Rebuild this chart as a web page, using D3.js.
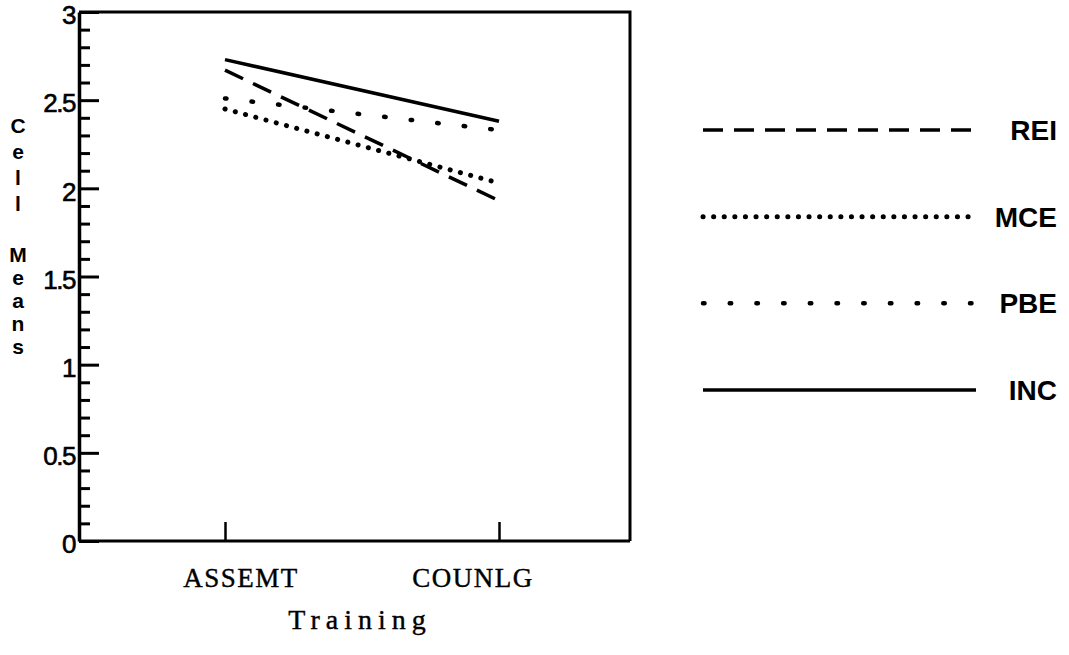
<!DOCTYPE html>
<html>
<head>
<meta charset="utf-8">
<script src="https://cdn.jsdelivr.net/npm/d3@7"></script>
<style>
  html, body { margin: 0; padding: 0; background: #fff; }
  svg { display: block; }
</style>
</head>
<body>
<svg id="chart" width="1069" height="655"></svg>
<script>
// ---- data ----
const categories = ["ASSEMT", "COUNLG"];
const seriesNames = ["REI", "MCE", "PBE", "INC"];
const REI = [2.67, 1.93];
const MCE = [2.45, 2.03];
const PBE = [2.51, 2.33];
const INC = [2.73, 2.38];
const yMajorTicks = [0, 0.5, 1, 1.5, 2, 2.5, 3];
const yTickLabels = ["0", "0.5", "1", "1.5", "2", "2.5", "3"];
const yMinorTicks = [0.1,0.2,0.3,0.4,0.6,0.7,0.8,0.9,1.1,1.2,1.3,1.4,1.6,1.7,1.8,1.9,2.1,2.2,2.3,2.4,2.6,2.7,2.8,2.9];
const xTitle = "Training";
const yTitleWords = ["Cell", "Means"];

// ---- layout ----
const svg = d3.select("#chart");
const frame = { left: 79, right: 630, top: 12, bottom: 541 };

const y = d3.scaleLinear().domain([0, 3]).range([frame.bottom, frame.top]);
const x = d3.scalePoint().domain(categories).range([88, 636]).padding(0.5);

const styles = {
  REI: { dash: "20,11", width: 3.5, cap: "butt" },
  MCE: { dash: "0.1,10.5", width: 5, cap: "round" },
  PBE: { dash: "1.5,25.2", width: 4.5, cap: "round" },
  INC: { dash: null, width: 3.5, cap: "butt" }
};
const seriesData = { REI, MCE, PBE, INC };

const serifFont = "'Liberation Serif', 'Times New Roman', serif";

// frame (top + right)
svg.append("path")
  .attr("d", `M${frame.left},${frame.top} H${frame.right} V${frame.bottom}`)
  .attr("fill", "none").attr("stroke", "#000").attr("stroke-width", 3);

// x axis line
svg.append("line")
  .attr("x1", frame.left).attr("x2", frame.right)
  .attr("y1", frame.bottom).attr("y2", frame.bottom)
  .attr("stroke", "#000").attr("stroke-width", 3);

// x ticks (upward)
const xAxis = d3.axisBottom(x).tickSize(-19).tickSizeOuter(0).tickFormat("");
const gx = svg.append("g").attr("transform", `translate(0,${frame.bottom})`).call(xAxis);
gx.select(".domain").remove();
gx.selectAll(".tick line").attr("stroke", "#000").attr("stroke-width", 2.5);

// x labels
const labelOffsets = { ASSEMT: 16, COUNLG: -26 };
svg.append("g").selectAll("text").data(categories).join("text")
  .attr("x", d => x(d) + labelOffsets[d])
  .attr("y", 587)
  .attr("text-anchor", "middle")
  .attr("font-family", serifFont)
  .attr("font-size", 27)
  .attr("letter-spacing", 1.5)
  .attr("stroke", "#000")
  .attr("stroke-width", 0.4)
  .attr("fill", "#000")
  .text(d => d);

// x title
svg.append("text")
  .attr("x", 360).attr("y", 629)
  .attr("text-anchor", "middle")
  .attr("font-family", serifFont)
  .attr("font-size", 28)
  .attr("letter-spacing", 6)
  .attr("stroke", "#000")
  .attr("stroke-width", 0.4)
  .attr("fill", "#000")
  .text(xTitle);

// y axis major
const yAxis = d3.axisLeft(y).tickValues(yMajorTicks).tickSize(-20).tickSizeOuter(0)
  .tickPadding(4).tickFormat((d, i) => yTickLabels[i]);
const gy = svg.append("g").attr("transform", `translate(${frame.left},0)`).call(yAxis);
gy.select(".domain").attr("stroke", "#000").attr("stroke-width", 3.5);
gy.selectAll(".tick line").attr("stroke", "#000").attr("stroke-width", 3);
gy.selectAll(".tick text")
  .attr("font-family", "'Liberation Sans', Arial, sans-serif")
  .attr("font-size", 26)
  .attr("dy", "0.45em")
  .attr("letter-spacing", -1.5)
  .attr("stroke", "#000")
  .attr("stroke-width", 0.6)
  .attr("fill", "#000");

// y axis minor
const yMinor = d3.axisLeft(y).tickValues(yMinorTicks).tickSize(-11).tickSizeOuter(0).tickFormat("");
const gym = svg.append("g").attr("transform", `translate(${frame.left},0)`).call(yMinor);
gym.select(".domain").remove();
gym.selectAll(".tick line").attr("stroke", "#000").attr("stroke-width", 3);

// y title: stacked letters
const yTitle = svg.append("text")
  .attr("font-family", "'Liberation Sans', Arial, sans-serif")
  .attr("font-weight", "bold")
  .attr("font-size", 21)
  .attr("text-anchor", "middle")
  .attr("fill", "#000");
const wordStarts = [133, 262];
const wordSteps = [26, 23];
yTitleWords.forEach((w, wi) => {
  w.split("").forEach((ch, ci) => {
    yTitle.append("tspan")
      .attr("x", 18)
      .attr("y", wordStarts[wi] + ci * wordSteps[wi])
      .text(ch);
  });
});

// data lines
const line = d3.line().x((d, i) => x(categories[i])).y(d => y(d));
seriesNames.forEach(name => {
  const st = styles[name];
  svg.append("path")
    .datum(seriesData[name])
    .attr("d", line)
    .attr("fill", "none")
    .attr("stroke", "#000")
    .attr("stroke-width", st.width)
    .attr("stroke-linecap", st.cap)
    .attr("stroke-dasharray", st.dash);
});

// legend
const legendY = d3.scalePoint().domain(seriesNames).range([130, 390]);
const lg = svg.append("g");
seriesNames.forEach(name => {
  const st = styles[name];
  const yy = legendY(name);
  lg.append("line")
    .attr("x1", 703).attr("x2", 976)
    .attr("y1", yy).attr("y2", yy)
    .attr("stroke", "#000")
    .attr("stroke-width", st.width)
    .attr("stroke-linecap", st.cap)
    .attr("stroke-dasharray", st.dash);
  lg.append("text")
    .attr("x", 1057).attr("y", yy + 10)
    .attr("text-anchor", "end")
    .attr("font-family", "'Liberation Sans', Arial, sans-serif")
    .attr("font-weight", "bold")
    .attr("font-size", 28)
    .attr("fill", "#000")
    .text(name);
});
</script>
</body>
</html>
